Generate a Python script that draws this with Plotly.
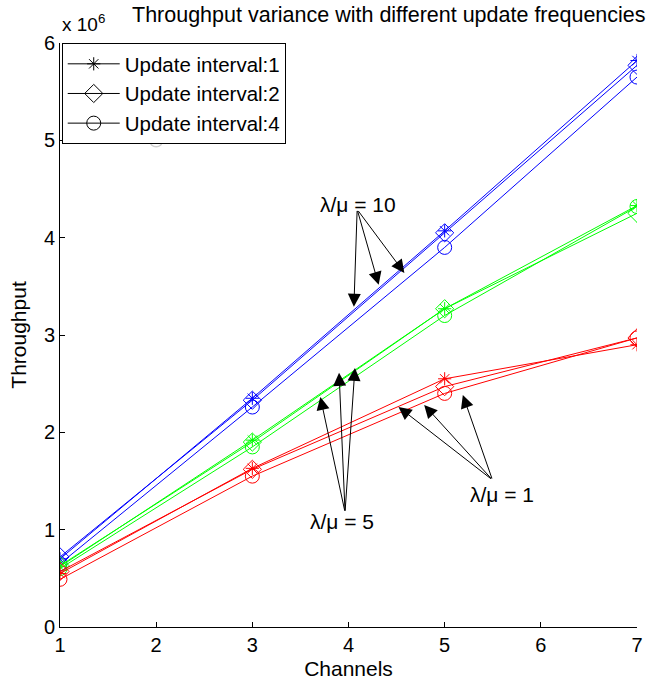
import plotly.graph_objects as go

# Throughput (x 10^6) versus number of channels
channels = [1, 3, 5, 7]

# lambda/mu = 10 (blue)
r10_int1 = [0.70, 2.35, 4.07, 5.82]
r10_int2 = [0.72, 2.33, 4.05, 5.77]
r10_int4 = [0.65, 2.26, 3.90, 5.65]

# lambda/mu = 5 (green)
r5_int1 = [0.62, 1.92, 3.27, 4.33]
r5_int2 = [0.63, 1.90, 3.27, 4.25]
r5_int4 = [0.60, 1.85, 3.20, 4.32]

# lambda/mu = 1 (red)
r1_int1 = [0.55, 1.63, 2.55, 2.90]
r1_int2 = [0.57, 1.62, 2.47, 2.97]
r1_int4 = [0.49, 1.55, 2.40, 2.97]

legend_labels = ["Update interval:1", "Update interval:2", "Update interval:4"]
stray_point_x = [2]
stray_point_y = [5]

FONT = "Liberation Sans, Arial, sans-serif"
symbols = ["asterisk-open", "diamond-open", "circle-open"]
sizes = [11, 14, 14]

groups = [
    ("#0000ff", [r10_int1, r10_int2, r10_int4]),
    ("#00ff00", [r5_int1, r5_int2, r5_int4]),
    ("#ff0000", [r1_int1, r1_int2, r1_int4]),
]

fig = go.Figure()

for color, series in groups:
    for vals, sym, sz in zip(series, symbols, sizes):
        fig.add_trace(go.Scatter(
            x=channels, y=vals, mode="lines+markers",
            line=dict(color=color, width=1),
            marker=dict(symbol=sym, size=sz, color=color, line=dict(width=1, color=color)),
            showlegend=False, hoverinfo="skip",
        ))

# legend entries in black
for name, sym, sz in zip(legend_labels, symbols, sizes):
    fig.add_trace(go.Scatter(
        x=[None], y=[None], mode="lines+markers", name=name,
        line=dict(color="black", width=1),
        marker=dict(symbol=sym, size=sz, color="black", line=dict(width=1, color="black")),
    ))

# faint leftover marker
fig.add_trace(go.Scatter(
    x=stray_point_x, y=stray_point_y, mode="markers", showlegend=False,
    marker=dict(symbol="circle-open", size=13, color="#cfcfcf", line=dict(width=1.5, color="#cfcfcf")),
    hoverinfo="skip",
))

# label annotations with arrows: (text, text position, arrow tail, arrow heads)
labels = [
    ("λ/μ = 10", (4.10, 4.34), (4.09, 4.29), [(4.056, 3.29), (4.314, 3.515), (4.581, 3.638)]),
    ("λ/μ = 5", (3.93, 1.08), (3.964, 1.18), [(3.707, 2.364), (3.902, 2.611), (4.067, 2.662)]),
    ("λ/μ = 1", (5.60, 1.36), (5.497, 1.511), [(4.52, 2.261), (4.787, 2.282), (5.189, 2.384)]),
]
annotations = []
for text, (tx, ty), (ax, ay), heads in labels:
    annotations.append(dict(x=tx, y=ty, xref="x", yref="y", text=text, showarrow=False,
                            font=dict(family=FONT, size=21, color="black")))
    for hx, hy in heads:
        annotations.append(dict(x=hx, y=hy, xref="x", yref="y", ax=ax, ay=ay,
                                axref="x", ayref="y", text="", showarrow=True,
                                arrowhead=2, arrowsize=2.6, arrowwidth=1, arrowcolor="black",
                                standoff=0, startstandoff=0))

annotations.append(dict(x=0.0, y=1.0, xref="paper", yref="paper", xanchor="left", yanchor="bottom",
                        yshift=6, text="x 10<sup>6</sup>", showarrow=False,
                        font=dict(family=FONT, size=19, color="black")))
annotations.append(dict(x=1.0, y=1.0, xref="paper", yref="paper", xanchor="right", yanchor="bottom",
                        xshift=11, yshift=14, text="Throughput variance with different update frequencies",
                        showarrow=False, font=dict(family=FONT, size=21.5, color="black")))

fig.update_layout(
    width=652, height=690,
    margin=dict(l=60, r=9, t=43, b=63),
    paper_bgcolor="white", plot_bgcolor="white",
    font=dict(family=FONT, size=20, color="black"),
    annotations=annotations,
    legend=dict(x=0.003, y=1.0, xanchor="left", yanchor="top",
                bordercolor="black", borderwidth=1, bgcolor="white",
                font=dict(family=FONT, size=20.5, color="black"),
                itemwidth=52, tracegroupgap=0),
)
fig.update_xaxes(
    range=[1, 7], tickvals=[1, 2, 3, 4, 5, 6, 7], showline=True, linecolor="black", linewidth=1,
    ticks="inside", ticklen=5, tickcolor="black", showgrid=False, zeroline=False, mirror=False,
    title=dict(text="Channels", font=dict(size=21), standoff=6), tickfont=dict(size=20),
)
fig.update_yaxes(
    range=[0, 6], tickvals=[0, 1, 2, 3, 4, 5, 6], showline=True, linecolor="black", linewidth=1,
    ticks="inside", ticklen=5, tickcolor="black", showgrid=False, zeroline=False, mirror=False,
    title=dict(text="Throughput", font=dict(size=21), standoff=11), tickfont=dict(size=20),
)

fig.write_html("out.html")
